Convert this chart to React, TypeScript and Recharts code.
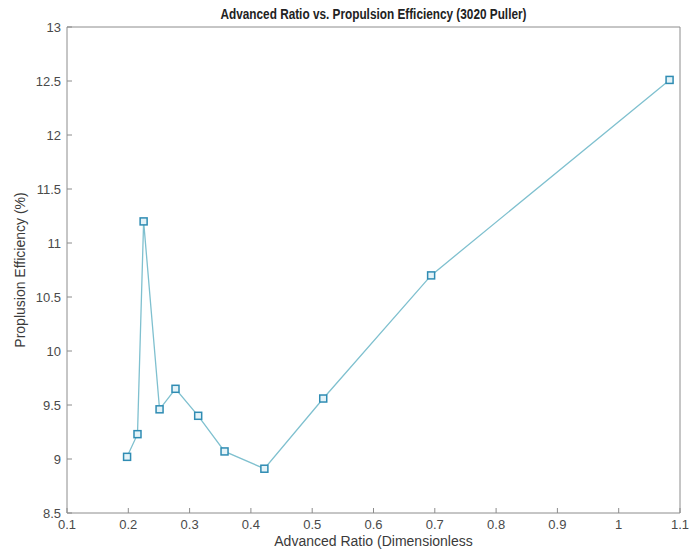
import { Line, LineChart, XAxis, YAxis, Label } from "recharts";

const advRatio = [0.198, 0.215, 0.225, 0.251, 0.277, 0.314, 0.357, 0.422, 0.518, 0.694, 1.083];
const efficiency = [9.02, 9.23, 11.2, 9.46, 9.65, 9.4, 9.07, 8.91, 9.56, 10.7, 12.51];
const xTicks = [0.1, 0.2, 0.3, 0.4, 0.5, 0.6, 0.7, 0.8, 0.9, 1, 1.1];
const yTicks = [8.5, 9, 9.5, 10, 10.5, 11, 11.5, 12, 12.5, 13];

const data = advRatio.map((x, i) => ({ x, y: efficiency[i] }));

const font = "'Liberation Sans', Arial, Helvetica, sans-serif";
const axisColor = "#8c8c8c";
const tickStyle = { fontSize: 13, fill: "#4a4a4a", fontFamily: font };

const SquareDot = (props: any) => {
  const { cx, cy } = props;
  if (cx == null || cy == null) return null;
  return (
    <rect
      x={cx - 3.5}
      y={cy - 3.5}
      width={7}
      height={7}
      fill="#e4f3f8"
      stroke="#2f8cb3"
      strokeWidth={1.5}
    />
  );
};

export default function App() {
  return (
    <div style={{ position: "absolute", left: 0, top: 0, width: 689, height: 552, background: "#fff" }}>
      <LineChart
        width={689}
        height={552}
        data={data}
        margin={{ top: 26, right: 8, bottom: 0, left: 0 }}
      >
        <XAxis
          type="number"
          dataKey="x"
          domain={[0.1, 1.1]}
          ticks={xTicks}
          height={39}
          stroke={axisColor}
          tickSize={-5}
          tickMargin={12}
          tick={tickStyle}
          tickFormatter={(v: number) => String(v)}
        >
          <Label
            value="Advanced Ratio (Dimensionless"
            position="center"
            dy={9}
            style={{ fontSize: 14, fill: "#3a3a3a", fontFamily: font }}
          />
        </XAxis>
        <XAxis
          xAxisId="top"
          orientation="top"
          type="number"
          domain={[0.1, 1.1]}
          ticks={xTicks}
          height={1}
          stroke={axisColor}
          tickSize={-5}
          tick={false}
        />
        <YAxis
          type="number"
          domain={[8.5, 13]}
          ticks={yTicks}
          width={67}
          stroke={axisColor}
          tickSize={-5}
          tickMargin={11}
          tick={tickStyle}
          tickFormatter={(v: number) => String(v)}
        >
          <Label
            value="Proplusion Efficiency (%)"
            angle={-90}
            position="center"
            dx={-13}
            style={{ fontSize: 14, fill: "#3a3a3a", fontFamily: font, textAnchor: "middle" }}
          />
        </YAxis>
        <YAxis
          yAxisId="right"
          orientation="right"
          type="number"
          domain={[8.5, 13]}
          ticks={yTicks}
          width={1}
          stroke={axisColor}
          tickSize={-5}
          tick={false}
        />
        <Line
          type="linear"
          dataKey="y"
          stroke="#7fc0cf"
          strokeWidth={1.3}
          dot={<SquareDot />}
          activeDot={false}
          isAnimationActive={false}
        />
      </LineChart>
      <svg width={689} height={26} style={{ position: "absolute", left: 0, top: 0 }}>
        <text
          x={373.5}
          y={19}
          textAnchor="middle"
          textLength={306}
          lengthAdjust="spacingAndGlyphs"
          style={{ fontSize: 14, fontWeight: "bold", fill: "#222", fontFamily: font }}
        >
          Advanced Ratio vs. Propulsion Efficiency (3020 Puller)
        </text>
      </svg>
    </div>
  );
}
